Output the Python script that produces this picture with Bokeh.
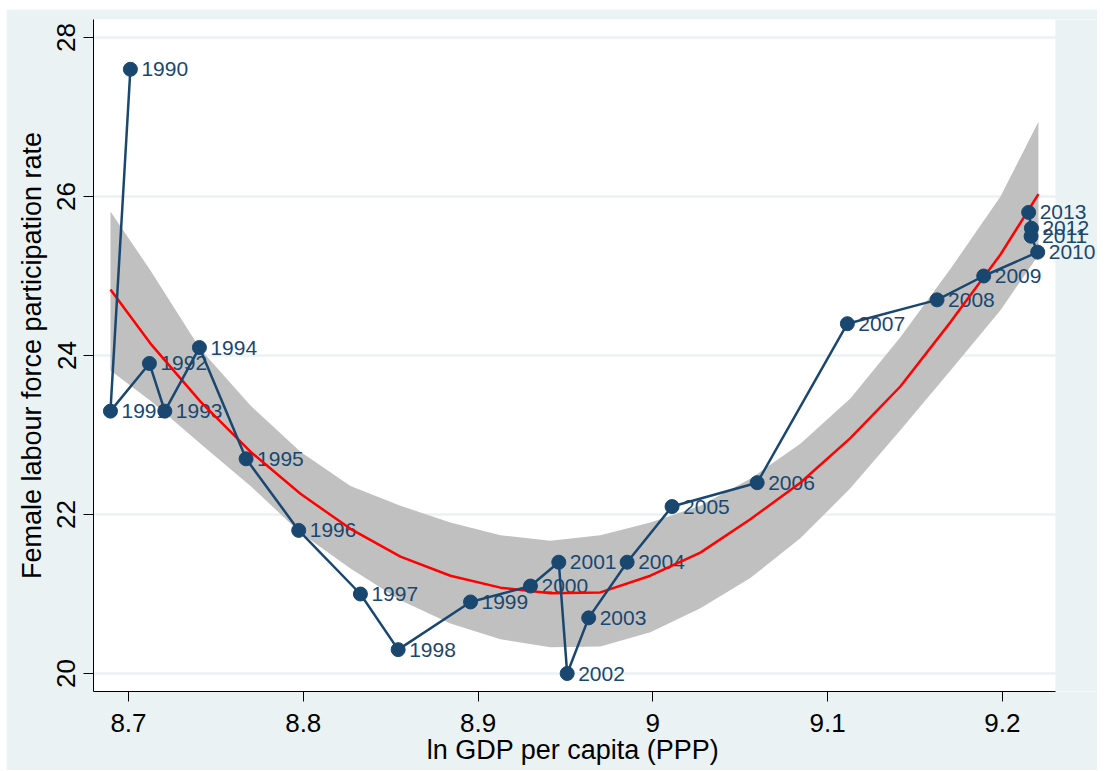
from bokeh.plotting import figure
from bokeh.models import ColumnDataSource, Range1d, FixedTicker, LabelSet, BoxAnnotation
from bokeh.embed import file_html
from bokeh.resources import INLINE
from bokeh.core.properties import value

# ---- data ----
years = [1990, 1991, 1992, 1993, 1994, 1995, 1996, 1997, 1998, 1999, 2000, 2001,
         2002, 2003, 2004, 2005, 2006, 2007, 2008, 2009, 2010, 2011, 2012, 2013]
ln_gdp = [8.7011, 8.6897, 8.7120, 8.7208, 8.7406, 8.7673, 8.7974, 8.8327, 8.8543, 8.8957,
          8.9300, 8.9462, 8.9510, 8.9633, 8.9853, 9.0110, 9.0597, 9.1113, 9.1626, 9.1893,
          9.2202, 9.2164, 9.2166, 9.2150]
flfp = [27.6, 23.3, 23.9, 23.3, 24.1, 22.7, 21.8, 21.0, 20.3, 20.9, 21.1, 21.4,
        20.0, 20.7, 21.4, 22.1, 22.4, 24.4, 24.7, 25.0, 25.3, 25.5, 25.6, 25.8]

# fitted (quadratic) line and its confidence band
fit_x = [8.6897, 8.7126, 8.7412, 8.7698, 8.7984, 8.8270, 8.8556, 8.8842, 8.9128, 8.9414,
         8.9700, 8.9986, 9.0272, 9.0558, 9.0844, 9.1130, 9.1416, 9.1703, 9.1989, 9.2206]
fit_y = [24.83, 24.15, 23.42, 22.79, 22.26, 21.82, 21.47, 21.23, 21.08, 21.01,
         21.02, 21.23, 21.52, 21.94, 22.40, 22.96, 23.61, 24.42, 25.27, 26.03]
ci_hi = [25.81, 25.07, 24.08, 23.37, 22.79, 22.36, 22.11, 21.90, 21.74, 21.67,
         21.74, 21.90, 22.11, 22.45, 22.89, 23.46, 24.23, 25.09, 26.00, 26.94]
ci_lo = [23.81, 23.43, 22.89, 22.36, 21.77, 21.32, 20.92, 20.63, 20.43, 20.33,
         20.34, 20.52, 20.82, 21.20, 21.70, 22.33, 23.06, 23.81, 24.57, 25.26]

x_ticks = [8.7, 8.8, 8.9, 9.0, 9.1, 9.2]
x_tick_labels = ["8.7", "8.8", "8.9", "9", "9.1", "9.2"]
y_ticks = [20, 22, 24, 26, 28]
y_tick_labels = ["20", "22", "24", "26", "28"]

x_title = "ln GDP per capita (PPP)"
y_title = "Female labour force participation rate"

# ---- styling / layout ----
NAVY = "#1A476F"
BG = "#EAF2F3"
FONT = "Liberation Sans"

X_START, X_PLOT_END, X_FRAME_END = 8.68, 9.2303, 9.2544   # plot region ends at X_PLOT_END;
Y_START, Y_END = 19.7736, 28.2264                        # frame goes on so labels can overflow

pts = ColumnDataSource(dict(x=ln_gdp, y=flfp, label=[str(y) for y in years]))
fit = ColumnDataSource(dict(x=fit_x, y=fit_y, lo=ci_lo, hi=ci_hi))

p = figure(frame_width=1004, frame_height=672,
           x_range=Range1d(X_START, X_FRAME_END), y_range=Range1d(Y_START, Y_END),
           output_backend="svg", toolbar_location=None,
           min_border_left=87, min_border_right=0, min_border_top=10, min_border_bottom=79,
           background_fill_color="white", border_fill_color=BG, outline_line_color=None)
p.margin = (9, 0, 0, 6)

# graph-region colour to the right of the plot region (hides grid lines there)
p.add_layout(BoxAnnotation(left=X_PLOT_END, fill_color=BG, fill_alpha=1.0,
                           line_color=None, level="glyph"))

# confidence band
p.varea(x="x", y1="lo", y2="hi", source=fit, fill_color="#C0C0C0", fill_alpha=1.0)

# year labels, then lines and markers drawn on top of them
labels = LabelSet(x="x", y="y", text="label", source=pts, x_offset=11, y_offset=0,
                  text_baseline="middle", text_align="left", text_font=value(FONT),
                  text_font_size="21px", text_color=NAVY, level="annotation")
p.renderers.append(labels)

p.line(x="x", y="y", source=fit, line_color="#FF0000", line_width=2.5, level="annotation")
p.line(x="x", y="y", source=pts, line_color=NAVY, line_width=2.5, level="annotation")
p.scatter(x="x", y="y", source=pts, size=14, fill_color=NAVY, line_color=NAVY,
          level="annotation")

p.xgrid.grid_line_color = None
p.ygrid.grid_line_color = BG
p.ygrid.grid_line_width = 2.5

p.xaxis.ticker = FixedTicker(ticks=x_ticks)
p.yaxis.ticker = FixedTicker(ticks=y_ticks)
p.xaxis.major_label_overrides = dict(zip(x_ticks, x_tick_labels))
p.yaxis.major_label_overrides = dict(zip(y_ticks, y_tick_labels))
p.xaxis.bounds = (X_START, X_PLOT_END)
# the axis title is centred on the wider frame; trailing no-break spaces
# move its visible text back to the centre of the plot region
p.xaxis.axis_label = x_title + "\u00a0" * 6
p.yaxis.axis_label = y_title
p.yaxis.major_label_orientation = "vertical"

for ax in (p.xaxis[0], p.yaxis[0]):
    ax.axis_line_color = "black"
    ax.axis_line_width = 1
    ax.major_tick_line_color = "black"
    ax.major_tick_out = 10
    ax.major_tick_in = 0
    ax.minor_tick_out = 0
    ax.minor_tick_in = 0
    ax.minor_tick_line_color = None
    ax.major_label_text_font = FONT
    ax.major_label_text_font_size = "26px"
    ax.major_label_text_color = "black"
    ax.axis_label_text_font = FONT
    ax.axis_label_text_font_size = "27px"
    ax.axis_label_text_font_style = "normal"
    ax.axis_label_text_color = "black"

p.xaxis.major_label_standoff = 12
p.xaxis.axis_label_standoff = 0
p.yaxis.major_label_standoff = 8
p.yaxis.axis_label_standoff = 8

open("out.html", "w").write(file_html(p, INLINE))
